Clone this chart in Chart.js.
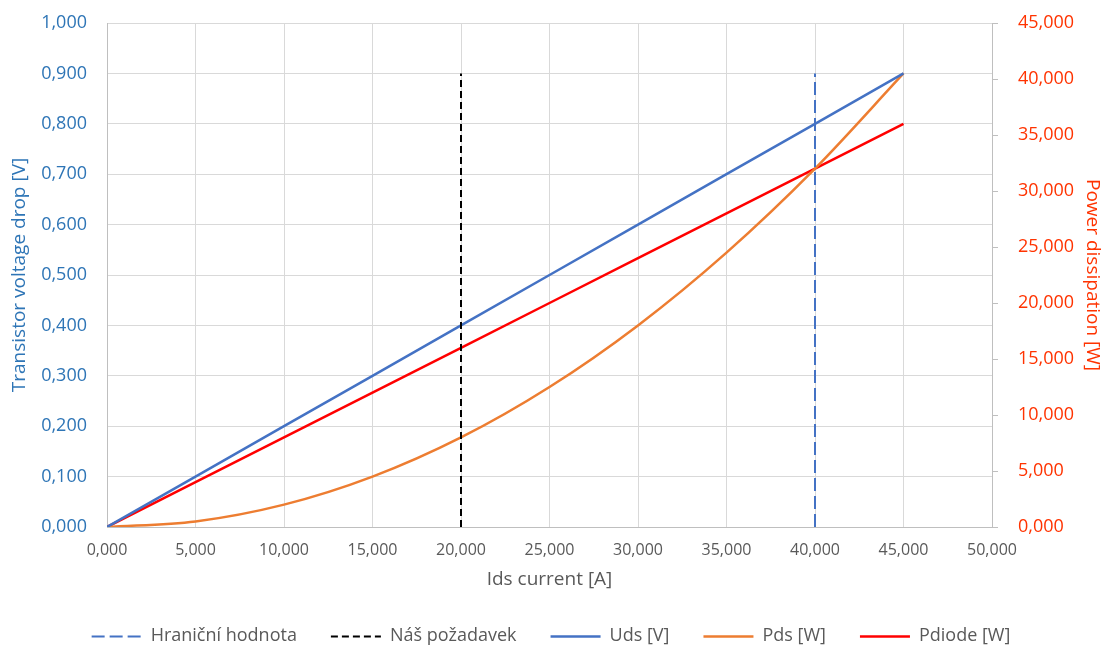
<!DOCTYPE html>
<html>
<head>
<meta charset="utf-8">
<script src="https://cdn.jsdelivr.net/npm/chart.js@4"></script>
<style>
  html, body { margin:0; padding:0; background:#fff; }
  #wrap { width:1102px; height:646px; position:relative; }
</style>
</head>
<body>
<div id="wrap"><canvas id="chart"></canvas></div>
<script>
// ---- Data ----
const current   = [0, 5, 10, 15, 20, 25, 30, 35, 40, 45];          // Ids [A]
const udsValues = [0, 0.1, 0.2, 0.3, 0.4, 0.5, 0.6, 0.7, 0.8, 0.9]; // [V]
const pdsValues = [0, 0.5, 2, 4.5, 8, 12.5, 18, 24.5, 32, 40.5];    // [W]
const pdiodeValues = [0, 4, 8, 12, 16, 20, 24, 28, 32, 36];        // [W]
const limitX    = 40;   // Hraniční hodnota
const requestX  = 20;   // Náš požadavek
const markerTop = 0.9;

const FONT = 'Open Sans';
const fmt = v => Number(v).toFixed(3).replace('.', ',');
const pts = vals => current.map((x, i) => ({ x, y: vals[i] }));

// ---- Legend line markers (drawn over empty legend boxes so dashes stay clean) ----
const legendLines = {
  id: 'legendLines',
  afterDraw(chart) {
    const lg = chart.legend;
    if (!lg || !lg.legendHitBoxes) return;
    const ctx = chart.ctx;
    lg.legendHitBoxes.forEach((hb, i) => {
      const ds = chart.data.datasets[i];
      const y = Math.round(hb.top + hb.height / 2) + 0.5;
      ctx.save();
      ctx.strokeStyle = ds.borderColor;
      ctx.lineWidth = ds.borderWidth;
      ctx.setLineDash(ds.borderDash || []);
      ctx.beginPath();
      ctx.moveTo(hb.left, y);
      ctx.lineTo(hb.left + lg.options.labels.boxWidth, y);
      ctx.stroke();
      ctx.restore();
    });
  },
};

// fixed axis sizes; tick padding would otherwise push the plot down
const fixY = w => s => { s.width = w; s.paddingTop = 11; s.paddingBottom = 11; };

// ---- Chart ----
new Chart(document.getElementById('chart'), {
  type: 'scatter',
  data: {
    datasets: [
      { label:'Hraniční hodnota', data:[{x:limitX,y:0},{x:limitX,y:markerTop}], yAxisID:'y',
        borderColor:'#4472C4', backgroundColor:'#4472C4', borderWidth:2, borderDash:[13,5], showLine:true, pointRadius:0 },
      { label:'Náš požadavek', data:[{x:requestX,y:0},{x:requestX,y:markerTop}], yAxisID:'y',
        borderColor:'#000000', backgroundColor:'#000000', borderWidth:2, borderDash:[7,4], showLine:true, pointRadius:0 },
      { label:'Uds [V]', data:pts(udsValues), yAxisID:'y',
        borderColor:'#4472C4', backgroundColor:'#4472C4', borderWidth:2.5, showLine:true, pointRadius:0 },
      { label:'Pds [W]', data:pts(pdsValues), yAxisID:'y2',
        borderColor:'#ED7D31', backgroundColor:'#ED7D31', borderWidth:2.5, showLine:true, pointRadius:0, cubicInterpolationMode:'monotone' },
      { label:'Pdiode [W]', data:pts(pdiodeValues), yAxisID:'y2',
        borderColor:'#FF0000', backgroundColor:'#FF0000', borderWidth:2.5, showLine:true, pointRadius:0 },
    ],
  },
  options: {
    responsive: true,
    maintainAspectRatio: false,
    animation: false,
    layout: { padding: { top: 23, bottom: -9, left: 0, right: 0 } },
    plugins: {
      tooltip: { enabled:false },
      legend: {
        position: 'bottom',
        labels: {
          font:{ family:FONT, size:18 }, color:'#595959', padding:34, boxWidth:50, boxHeight:0,
          generateLabels: chart => Chart.defaults.plugins.legend.labels.generateLabels(chart)
            .map(item => Object.assign(item, { lineWidth:0, fillStyle:'rgba(0,0,0,0)', strokeStyle:'rgba(0,0,0,0)' })),
        },
      },
    },
    scales: {
      x: {
        type:'linear', min:0, max:50,
        ticks:{ stepSize:5, font:{ family:FONT, size:16 }, color:'#595959', callback: v => fmt(v), maxRotation:0, padding:14 },
        grid:{ color:'#D9D9D9', drawTicks:false },
        border:{ color:'#BFBFBF' },
        title:{ display:true, text:'Ids current [A]', font:{ family:FONT, size:19 }, color:'#595959', padding:{ top:0, bottom:2 } },
        afterFit: s => { s.height = 66; },
      },
      y: {
        position:'left', min:0, max:1,
        ticks:{ stepSize:0.1, font:{ family:FONT, size:18 }, color:'#2E75B6', callback: v => fmt(v), padding:20 },
        grid:{ color:'#D9D9D9', drawTicks:false },
        border:{ color:'#BFBFBF' },
        title:{ display:true, text:'Transistor voltage drop [V]', font:{ family:FONT, size:19 }, color:'#2E75B6', padding:{ top:8, bottom:0 } },
        afterFit: fixY(107),
      },
      y2: {
        position:'right', min:0, max:45,
        ticks:{ stepSize:5, font:{ family:FONT, size:18 }, color:'#FF3300', callback: v => fmt(v), padding:20 },
        grid:{ drawOnChartArea:false, color:'#BFBFBF', tickLength:6 },
        border:{ color:'#BFBFBF' },
        title:{ display:true, text:'Power dissipation [W]', font:{ family:FONT, size:19, lineHeight:1 }, color:'#FF3300', padding:{ top:0, bottom:0 } },
        afterFit: fixY(110),
      },
    },
  },
  plugins: [legendLines],
});
</script>
</body>
</html>
